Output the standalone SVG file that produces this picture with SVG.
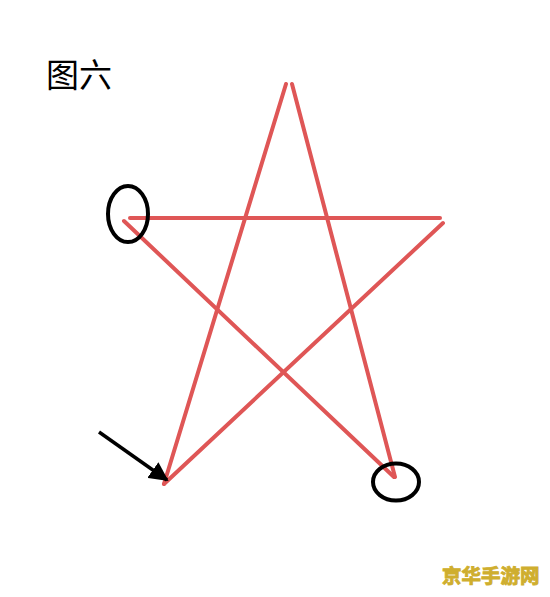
<svg xmlns="http://www.w3.org/2000/svg" width="550" height="597" viewBox="0 0 550 597">
<style>
.star{stroke:#df5656;stroke-width:4;stroke-linecap:round;fill:none}
.mark{stroke:#000;stroke-width:4;fill:none}
.t{font-family:"Noto Sans CJK SC","Noto Sans",sans-serif}
</style>
<defs>
<marker id="ah" viewBox="0 0 10 10" refX="9" refY="5" markerWidth="5.5" markerHeight="5.5" markerUnits="strokeWidth" orient="auto">
<path d="M0,0 L10,5 L0,10 Z" fill="#000"/>
</marker>
</defs>
<rect width="550" height="597" fill="#fff"/>
<g id="title"><text class="t" x="46" y="87" font-size="33" fill="#000">图六</text></g>
<g id="connectors">
<line class="star" x1="164" y1="484" x2="286" y2="84"/>
<line class="star" x1="292" y1="84" x2="395" y2="477"/>
<line class="star" x1="130" y1="218" x2="440" y2="218"/>
<line class="star" x1="124" y1="221" x2="394" y2="477"/>
<line class="star" x1="443" y1="223" x2="164" y2="484"/>
<line x1="99" y1="432" x2="167" y2="480" stroke="#000" stroke-width="3.5" marker-end="url(#ah)"/>
</g>
<g id="circle1"><ellipse class="mark" cx="128" cy="214" rx="20" ry="28"/></g>
<g id="circle2"><ellipse class="mark" cx="396" cy="482" rx="23" ry="18.5"/></g>
<g id="watermark"><text class="t" x="442" y="583" font-size="19.5" font-weight="bold" fill="#cfae2e" stroke="#cfae2e" stroke-width="0.9">京华手游网</text></g>
</svg>
